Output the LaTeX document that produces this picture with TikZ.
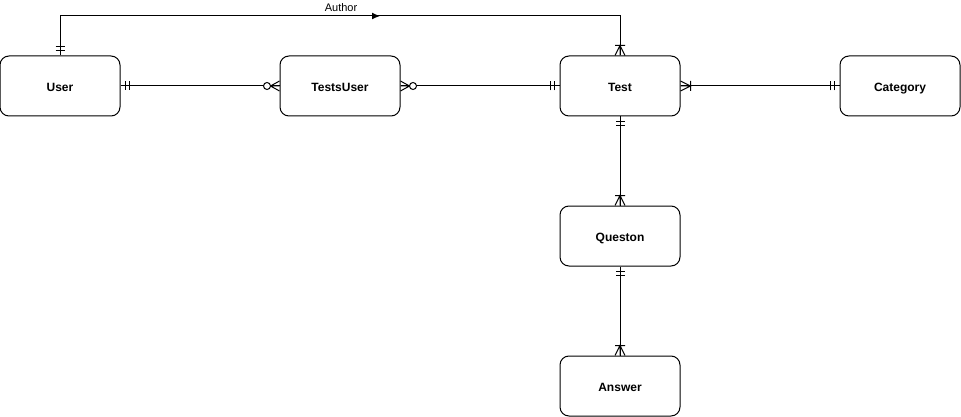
\documentclass[tikz,border=0pt]{standalone}
\usepackage{fontspec}
\setmainfont{Liberation Sans}
\usetikzlibrary{arrows.meta}
\tikzset{
  entity/.style={draw, line width=1pt, rounded corners=9pt, minimum width=120pt, minimum height=60pt, inner sep=0pt, text height=10.6pt, text depth=0pt, font=\fontsize{12}{14}\selectfont\bfseries},
  conn/.style={line width=1pt},
  ermark/.style={line width=1pt}
}
% #1 anchor, #2 outward angle (canvas: up = 90)
\newcommand{\ERmandOne}[2]{\begin{scope}[shift={(#1)},rotate=#2]\draw[ermark] (5,-4.5)--(5,4.5) (9,-4.5)--(9,4.5);\end{scope}}
\newcommand{\ERoneMany}[2]{\begin{scope}[shift={(#1)},rotate=#2]\draw[ermark] (0,-5)--(10,0)--(0,5) (0,0)--(10,0) (10,-5)--(10,5);\end{scope}}
\newcommand{\ERzeroMany}[2]{\begin{scope}[shift={(#1)},rotate=#2]\draw[ermark] (0,-5)--(9,0)--(0,5) (0,0)--(9,0);\draw[ermark,fill=white] (12.5,0) circle (3.5);\end{scope}}
\begin{document}
\begin{tikzpicture}[x=1pt,y=-1pt]
\useasboundingbox (0,0) rectangle (961,417);
\node[entity] (user) at (60,86) {User};
\node[entity] (tu) at (340,86) {TestsUser};
\node[entity] (test) at (620,86) {Test};
\node[entity] (cat) at (900,86) {Category};
\node[entity] (q) at (620,236) {Queston};
\node[entity] (ans) at (620,386) {Answer};
% Author relation
\draw[conn] (user.north) -- (60,16) coordinate (a1) -- (620,16) coordinate (a2) -- (test.north);
\coordinate (arr) at (380,16);
\draw[conn,-{Latex[length=8pt,width=7pt]}] (a1) -- (arr);
\node[font=\fontsize{11}{13}\selectfont] (alabel) at (341,7.5) {Author};
% connectors
\draw[conn] (user.east) -- (tu.west);
\draw[conn] (tu.east) -- (test.west);
\draw[conn] (test.east) -- (cat.west);
\draw[conn] (test.south) -- (q.north);
\draw[conn] (q.south) -- (ans.north);
% markers
\ERmandOne{user.north}{90}
\ERoneMany{test.north}{90}
\ERmandOne{user.east}{0}
\ERzeroMany{tu.west}{180}
\ERzeroMany{tu.east}{0}
\ERmandOne{test.west}{180}
\ERoneMany{test.east}{0}
\ERmandOne{cat.west}{180}
\ERmandOne{test.south}{-90}
\ERoneMany{q.north}{90}
\ERmandOne{q.south}{-90}
\ERoneMany{ans.north}{90}
\end{tikzpicture}
\end{document}
